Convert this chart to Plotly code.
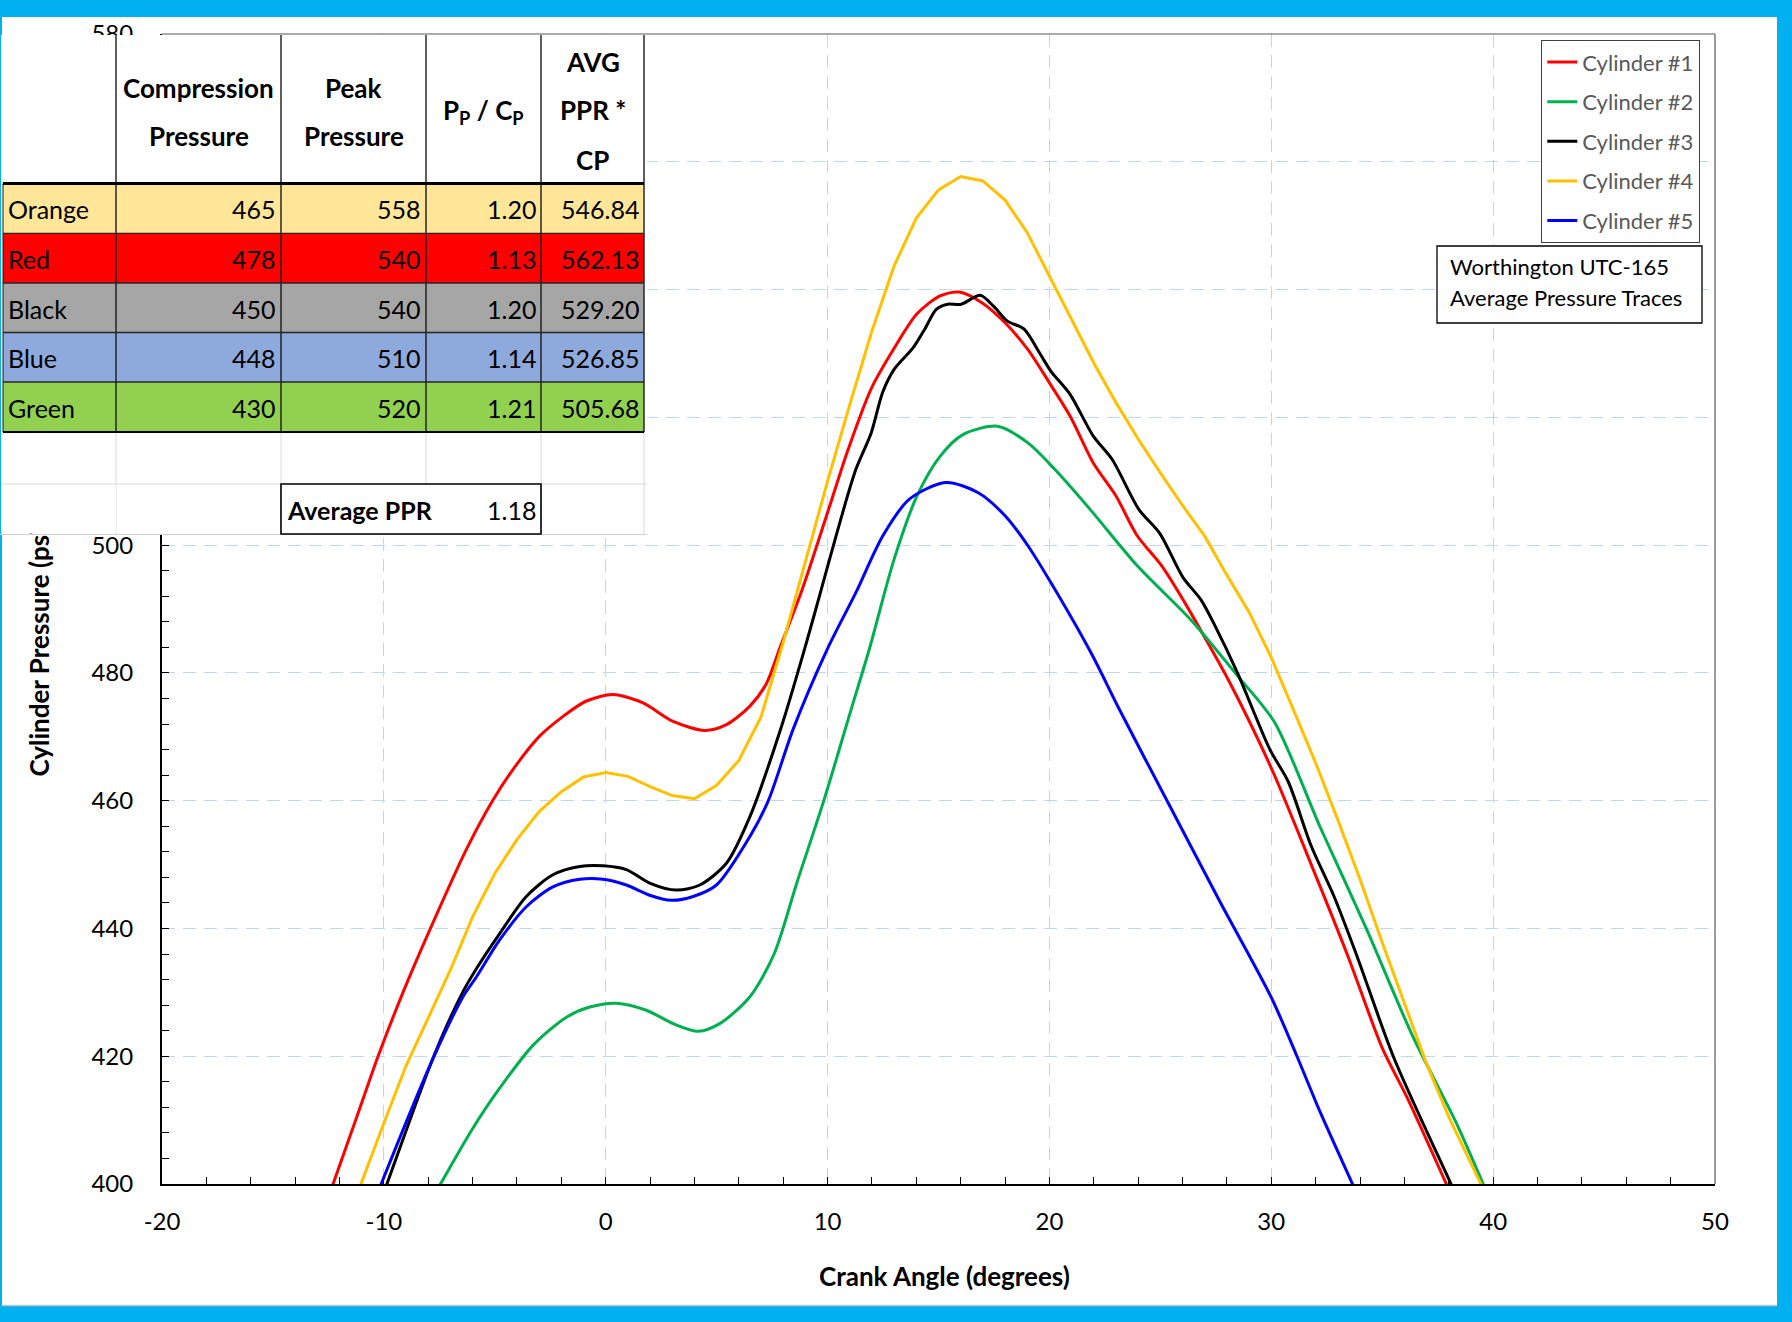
import plotly.graph_objects as go

# ---------------- data ----------------
cyl1_x = [-12.9, -12.29, -11.21, -10.26, -9.1, -7.94, -6.29, -5.08, -4.03, -2.98, -1.92, -0.87, 0.33, 1.68, 3.04,
          4.47, 5.44, 6.5, 7.24, 7.84, 8.86, 10.0, 10.93, 11.97, 13.0, 14.03, 15.07, 15.93, 16.97, 18.0, 19.03,
          20.0, 20.93, 21.97, 23.0, 23.95, 25.07, 26.1, 27.14, 28.08, 30.0, 31.8, 33.45, 35.0, 36.14, 37.89, 38.6]
cyl1_y = [394, 400, 410.6, 420, 430.3, 439.7, 452.3, 460.1, 465.6, 470.1, 473.2, 475.6, 476.6, 475.3, 472.4,
          471.0, 471.9, 474.8, 478.3, 483.8, 493.1, 505.1, 515.0, 524.5, 530.8, 536.2, 539.0, 539.6, 537.9, 534.8,
          530.6, 525.4, 520.2, 512.9, 507.7, 501.5, 496.7, 491.0, 484.7, 478.8, 465.1, 450.0, 435.7, 421.3, 413.4,
          400, 394.5]

cyl2_x = [-8.2, -7.45, -6.03, -4.86, -3.28, -1.77, -0.72, 0.48, 1.83, 3.04, 4.17, 5.14, 6.5, 7.59, 8.62, 9.83,
          11.03, 11.88, 13.0, 14.03, 15.07, 16.1, 17.66, 19.03, 20.23, 21.88, 23.95, 26.43, 28.49, 30.14, 32.21,
          34.28, 36.34, 38.4, 39.55, 40.3]
cyl2_y = [395.5, 400, 408.5, 414.6, 421.7, 426.1, 427.7, 428.3, 427.2, 425.1, 423.9, 425.1, 429.3, 436.0, 447.2,
          460, 473.9, 483.7, 497.8, 507.7, 513.9, 517.3, 518.6, 516.0, 511.9, 505.4, 496.8, 488.1, 479.5, 472.3,
          455.8, 440.0, 423.4, 409.1, 400, 394]

cyl3_x = [-10.4, -9.86, -7.75, -6.45, -5.83, -4.78, -3.58, -2.38, -1.17, -0.12, 0.93, 1.98, 3.19, 4.24,
          5.44, 6.5, 7.93, 8.97, 9.72, 10.59, 11.28, 11.97, 12.48, 13.0, 13.86, 14.38, 14.9, 15.41, 16.02, 16.88,
          17.48, 18.09, 18.86, 19.55, 20.07, 20.93, 21.97, 22.83, 24.03, 24.98, 26.01, 26.84, 27.46, 28.49,
          29.94, 30.76, 31.8, 32.83, 33.86, 35.52, 38.1, 38.8]
cyl3_y = [394.8, 400, 420, 430, 433.7, 439.2, 445.0, 448.4, 449.7, 449.8, 449.2, 447.1, 446.0, 446.8,
          450.2, 457.5, 471.7, 483.8, 493.1, 504.0, 511.9, 517.6, 523.9, 527.5, 530.9, 533.8, 536.9, 537.7, 537.7,
          539.1, 537.4, 535.1, 533.8, 530.1, 527.2, 523.6, 517.1, 513.4, 505.6, 501.8, 495.0, 491.4, 487.4,
          479.9, 468.0, 463.0, 452.9, 445.0, 435.7, 419.8, 400, 394.6]

cyl4_x = list(range(-12, 41))
cyl4_y = [390, 400.3, 409.5, 418.5, 426, 433.5, 441.8, 448.6, 453.9, 458.3, 461.4, 463.7, 464.4, 463.8, 462.2,
          460.8, 460.3, 462.4, 466.3, 473.1, 484.8, 497.5, 510, 522, 533.5, 543.7, 551.2, 555.6, 557.7, 557.0,
          554.0, 548.9, 542.1, 535.2, 528.5, 522.3, 516.6, 511.3, 506.2, 501.4, 495.3, 489.5, 482.4, 474.2,
          465.9, 457, 447.7, 437.8, 428.2, 418.8, 410.5, 403.3, 396]

cyl5_x = [-10.6, -10.12, -7.8, -6.45, -5.83, -4.78, -3.58, -2.38, -1.17, -0.12, 0.93, 1.98, 2.96, 3.94,
          4.99, 6.5, 7.33, 8.45, 10.0, 11.28, 12.48, 13.69, 15.33, 16.79, 18.0, 19.03, 20.07, 21.88, 23.12,
          25.39, 27.67, 30.0, 31.18, 32.21, 33.66, 34.4]
cyl5_y = [395.7, 400, 419.5, 429.2, 432.4, 438.2, 443.4, 446.5, 447.7, 447.7, 446.8, 445.2, 444.4, 445.0,
          446.8, 454.4, 460.0, 471.2, 483.8, 492.6, 501.4, 507.2, 509.8, 508.2, 504.6, 499.9, 494.1, 483.1,
          474.5, 459.4, 444.3, 429.2, 419.8, 411.2, 400, 394.3]

series_names = ["Cylinder #1", "Cylinder #2", "Cylinder #3", "Cylinder #4", "Cylinder #5"]
series_colors = ["#FF0000", "#00B050", "#000000", "#FFC000", "#0000FF"]

x_ticks = [-20, -10, 0, 10, 20, 30, 40, 50]
x_tick_labels = ["-20", "-10", "0", "10", "20", "30", "40", "50"]
y_ticks = [400, 420, 440, 460, 480, 500, 520, 540, 560, 580]

# table data
tbl_names = ["Orange", "Red", "Black", "Blue", "Green"]
tbl_comp = ["465", "478", "450", "448", "430"]
tbl_peak = ["558", "540", "540", "510", "520"]
tbl_ratio = ["1.20", "1.13", "1.20", "1.14", "1.21"]
tbl_avg = ["546.84", "562.13", "529.20", "526.85", "505.68"]
tbl_fill = ["#FFE699", "#FF0000", "#A6A6A6", "#8EA9DB", "#92D050"]
avg_ppr = "1.18"

# ---------------- geometry helpers ----------------
W, H = 1792, 1322
L, R, T, B = 162, 1715, 34, 1184


def px(X):
    return (X - L) / (R - L)


def py(Y):
    return (B - Y) / (B - T)


fig = go.Figure()
all_x = [cyl1_x, cyl2_x, cyl3_x, cyl4_x, cyl5_x]
all_y = [cyl1_y, cyl2_y, cyl3_y, cyl4_y, cyl5_y]
for i in range(5):
    shape = "linear" if i == 3 else "spline"
    fig.add_trace(go.Scatter(
        x=all_x[i], y=all_y[i], mode="lines", name=series_names[i],
        legendgroup=series_names[i],
        line=dict(color=series_colors[i], width=3, shape=shape, smoothing=0.8),
        hoverinfo="skip"))

LATO = "Lato, Open Sans, sans-serif"
TICKFONT = dict(family=LATO, size=24, color="black")
axis_common = dict(
    showgrid=True, gridcolor="#BDD7EE", gridwidth=1.3, griddash="13px,8px",
    zeroline=False, showline=True, linecolor="black", linewidth=2,
    ticks="inside", ticklen=7, tickwidth=1.3, tickcolor="black",
    tickfont=TICKFONT, automargin=False, fixedrange=True,
)

fig.update_layout(
    width=W, height=H,
    margin=dict(l=L, r=W - R, t=T, b=H - B, pad=0),
    paper_bgcolor="#00B0F0", plot_bgcolor="white",
    font=dict(family=LATO),
    showlegend=True,
    legend=dict(x=px(1541), y=py(40), xanchor="left", yanchor="top",
                bgcolor="white", bordercolor="#404040", borderwidth=1.3,
                font=dict(family=LATO, size=22, color="#595959"),
                tracegroupgap=8, traceorder="grouped", itemwidth=30),
    xaxis=dict(range=[-20, 50], tickvals=x_ticks, ticktext=x_tick_labels, ticklabelstandoff=15,
               minor=dict(dtick=2, tick0=0, ticks="inside", ticklen=7, tickwidth=1.3,
                          tickcolor="black", showgrid=False),
               **axis_common),
    yaxis=dict(range=[400, 580], tickvals=y_ticks, ticklabelstandoff=22,
               minor=dict(dtick=4, tick0=400, ticks="inside", ticklen=7, tickwidth=1.3,
                          tickcolor="black", showgrid=False),
               **axis_common),
)

shapes = []
# white sheet inside blue frame
shapes.append(dict(type="rect", xref="paper", yref="paper", layer="below",
                   x0=px(2), x1=px(1777), y0=py(17), y1=py(1305),
                   fillcolor="white", line=dict(width=0)))
shapes.append(dict(type="line", xref="paper", yref="paper", layer="below",
                   x0=px(2), x1=px(1777), y0=py(1305.5), y1=py(1305.5),
                   line=dict(color="#C8C8C8", width=1.5)))
# plot area border (top and right)
shapes.append(dict(type="line", xref="paper", yref="paper", layer="above",
                   x0=0, x1=1, y0=1, y1=1, line=dict(color="#595959", width=1.2)))
shapes.append(dict(type="line", xref="paper", yref="paper", layer="above",
                   x0=1, x1=1, y0=0, y1=1, line=dict(color="#595959", width=1.2)))
# title text box
shapes.append(dict(type="rect", xref="paper", yref="paper", layer="above",
                   x0=px(1437), x1=px(1702), y0=py(246), y1=py(323),
                   fillcolor="white", line=dict(color="black", width=1.3)))

# ---- table (spreadsheet picture) ----
cols = [3, 116, 281, 426, 541, 644]
rows = [183.5, 233.3, 283, 332.5, 382, 432]


def rect(x0, x1, y0, y1, fill, lw=0, lc="black"):
    return dict(type="rect", xref="paper", yref="paper", layer="above",
                x0=px(x0), x1=px(x1), y0=py(y0), y1=py(y1),
                fillcolor=fill, line=dict(width=lw, color=lc))


def hline(x0, x1, Y, color, w):
    return dict(type="line", xref="paper", yref="paper", layer="above",
                x0=px(x0), x1=px(x1), y0=py(Y), y1=py(Y), line=dict(color=color, width=w))


def vline(X, y0, y1, color, w):
    return dict(type="line", xref="paper", yref="paper", layer="above",
                x0=px(X), x1=px(X), y0=py(y0), y1=py(y1), line=dict(color=color, width=w))


shapes.append(rect(1, 647, 35, 535, "white"))
for i in range(5):
    shapes.append(rect(cols[0], cols[-1], rows[i], rows[i + 1], tbl_fill[i]))
# faint spreadsheet gridlines
for X in cols[1:]:
    shapes.append(vline(X, 432, 534, "#DADADA", 1))
shapes.append(hline(1, 647, 484, "#DADADA", 1))
shapes.append(hline(0, 647, 534.5, "#CFCFCF", 1.2))
# dark table lines
for X in cols[1:]:
    shapes.append(vline(X, 35, 432, "#1A1A1A", 1.4))
shapes.append(vline(cols[0], rows[0], rows[-1], "#1A1A1A", 1))
for Y in rows[1:-1]:
    shapes.append(hline(cols[0], cols[-1], Y, "#262626", 1.3))
shapes.append(hline(cols[0], cols[-1], rows[0], "black", 3))
shapes.append(hline(cols[0], cols[-1], rows[-1], "black", 2.2))
# Average PPR box
shapes.append(rect(281, 541, 484, 534, "white", 1.6, "black"))

fig.update_layout(shapes=shapes)

# ---------------- annotations ----------------
ann = []
TITLEFONT = dict(family=LATO, size=26, color="black", weight="bold")
ann.append(dict(text="Cylinder Pressure (psi)", xref="paper", yref="paper",
                x=px(38), y=py(778), xanchor="center", yanchor="bottom", textangle=-90,
                showarrow=False, font=TITLEFONT, borderpad=0))
# white cell of the table picture lying over the axis title
ann.append(dict(text="&nbsp;", xref="paper", yref="paper", x=px(3.5), y=py(485),
                xanchor="left", yanchor="top", width=112, height=48, bgcolor="white",
                borderpad=0, borderwidth=0, showarrow=False, font=dict(size=2)))
ann.append(dict(text="Crank Angle (degrees)", xref="paper", yref="paper",
                x=px(945), y=py(1276), xanchor="center", yanchor="middle",
                showarrow=False, font=TITLEFONT))
BOXFONT = dict(family=LATO, size=22, color="black")
ann.append(dict(text="Worthington UTC-165", xref="paper", yref="paper",
                x=px(1449), y=py(266), xanchor="left", yanchor="middle",
                showarrow=False, font=BOXFONT, borderpad=0))
ann.append(dict(text="Average Pressure Traces", xref="paper", yref="paper",
                x=px(1449), y=py(297), xanchor="left", yanchor="middle",
                showarrow=False, font=BOXFONT, borderpad=0))

HFONT = dict(family=LATO, size=26, color="black", weight="bold")
DFONT = dict(family=LATO, size=25, color="black")


def txt(s, X, Y, xa="center", font=HFONT):
    return dict(text=s, xref="paper", yref="paper", x=px(X), y=py(Y), xanchor=xa,
                yanchor="middle", showarrow=False, font=font, borderpad=0)


ann += [
    txt("Compression", 198.5, 88), txt("Pressure", 198.5, 136),
    txt("Peak", 353.5, 88), txt("Pressure", 353.5, 136),
    txt("P<sub>P</sub> / C<sub>P</sub>", 483.5, 112),
    txt("AVG", 592.5, 62), txt("PPR *", 592.5, 110), txt("CP", 592.5, 160),
]
for i in range(5):
    yc = (rows[i] + rows[i + 1]) / 2 + 1
    ann.append(txt(tbl_names[i], 7, yc, "left", DFONT))
    ann.append(txt(tbl_comp[i], 277, yc, "right", DFONT))
    ann.append(txt(tbl_peak[i], 422, yc, "right", DFONT))
    ann.append(txt(tbl_ratio[i], 537, yc, "right", DFONT))
    ann.append(txt(tbl_avg[i], 640, yc, "right", DFONT))
ann.append(txt("Average PPR", 286, 510, "left", dict(family=LATO, size=25, color="black", weight="bold")))
ann.append(txt(avg_ppr, 537, 510, "right", DFONT))

fig.update_layout(annotations=ann)

fig.write_html("out.html", config={"displayModeBar": False},
               post_script="document.body.style.margin='0px';document.body.style.overflow='hidden';")
